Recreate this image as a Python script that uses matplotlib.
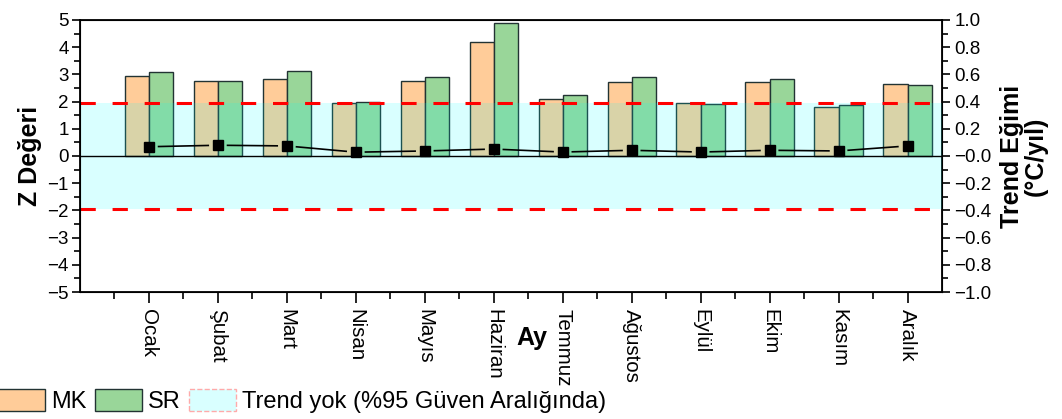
#Mann-Kendall / Spearman Z values and trend slope by month

import numpy as np
import matplotlib.pyplot as plt
from matplotlib.patches import Patch

plt.rcParams['font.family'] = ['Liberation Sans', 'DejaVu Sans']

#data
months = ['Ocak', 'Şubat', 'Mart', 'Nisan', 'Mayıs', 'Haziran',
          'Temmuz', 'Ağustos', 'Eylül', 'Ekim', 'Kasım', 'Aralık']
mk = [2.95, 2.77, 2.82, 1.95, 2.75, 4.18, 2.08, 2.72, 1.96, 2.71, 1.81, 2.66]
sr = [3.10, 2.75, 3.12, 1.97, 2.89, 4.88, 2.23, 2.92, 1.92, 2.84, 1.87, 2.62]
slope = [0.068, 0.079, 0.074, 0.028, 0.037, 0.051, 0.029, 0.042, 0.029, 0.042, 0.037, 0.074]
zcrit = 1.96

x = np.arange(1, len(months) + 1)
w = 0.35

fig = plt.figure(figsize=(10.62, 4.19), dpi=100)
ax = fig.add_axes([0.0753, 0.3031, 0.8117, 0.6492])

ax.bar(x - w/2, mk, w, color='#FFCC99', edgecolor='#223333', lw=1, zorder=2)
ax.bar(x + w/2, sr, w, color='#99D699', edgecolor='#223333', lw=1, zorder=2)

#no-trend band, drawn over the bars
ax.axhspan(-zcrit, zcrit, color='cyan', alpha=0.15, lw=0, zorder=3)
ax.axhline(0, color='black', lw=1, zorder=4)
for v in (zcrit, -zcrit):
    ax.axhline(v, color='red', lw=2.2, ls=(0, (5, 5.5)), zorder=6)

ax.set_xlim(0, 12.5)
ax.set_ylim(-5, 5)
ax.set_yticks(range(-5, 6))
ax.set_yticks(np.arange(-5, 5.01, 0.5), minor=True)
ax.set_yticklabels([str(v).replace('-', '\u2212') for v in range(-5, 6)])
ax.set_xticks(x)
ax.set_xticks(np.arange(0.5, 12.5, 1), minor=True)
ax.set_xticklabels(months, rotation=270, fontsize=14.8)
ax.tick_params(axis='x', which='major', length=8, width=1.2, pad=4)
ax.tick_params(axis='x', which='minor', length=5, width=1.2)
ax.tick_params(axis='y', which='major', length=6, width=1.2, labelsize=13.5, pad=2)
ax.tick_params(axis='y', which='minor', length=4, width=1.2)
for s in ax.spines.values():
    s.set_linewidth(1.3)

ax.set_ylabel('Z Değeri', fontsize=18, fontweight='bold', labelpad=4)
fig.text(532/1062, 1 - 338/419, 'Ay', fontsize=18, fontweight='bold',
         ha='center', va='center')

#trend slope on right axis
ax2 = ax.twinx()
ax2.set_ylim(-1, 1)
ax2.set_yticks(np.round(np.arange(-1, 1.01, 0.2), 1))
ax2.set_yticks(np.arange(-1, 1.01, 0.1), minor=True)
ax2.set_yticklabels([f'{v:.1f}'.replace('-', '\u2212') for v in np.round(np.arange(-1, 1.01, 0.2), 1)])
ax2.tick_params(axis='y', which='major', length=6, width=1.2, labelsize=13.5, pad=3)
ax2.tick_params(axis='y', which='minor', length=4, width=1.2)
ax2.set_ylabel('Trend Eğimi\n(°C/yıl)', fontsize=18, fontweight='bold',
               linespacing=1.0, labelpad=6)

#connecting line with gaps around the symbols
g = 0.14
for i in range(len(x) - 1):
    x0, x1 = x[i], x[i+1]
    y0, y1 = slope[i], slope[i+1]
    ax2.plot([x0 + g*(x1-x0), x1 - g*(x1-x0)],
             [y0 + g*(y1-y0), y1 - g*(y1-y0)], color='black', lw=1.2, zorder=5)
ax2.plot(x, slope, 's', color='black', ms=7.5, zorder=6)

handles = [Patch(facecolor='#FFCC99', edgecolor='#223333'),
           Patch(facecolor='#99D699', edgecolor='#223333'),
           Patch(facecolor='#D9FFFF', edgecolor='#FFAAAA', ls='--')]
fig.legend(handles, ['MK', 'SR', 'Trend yok (%95 Güven Aralığında)'],
           loc='center left', bbox_to_anchor=(-0.002, 0.043), ncol=3,
           frameon=False, fontsize=17, handlelength=2.0, handleheight=1.1,
           handletextpad=0.25, columnspacing=0.35, borderpad=0, borderaxespad=0)

fig.savefig('out.png', dpi=100)
